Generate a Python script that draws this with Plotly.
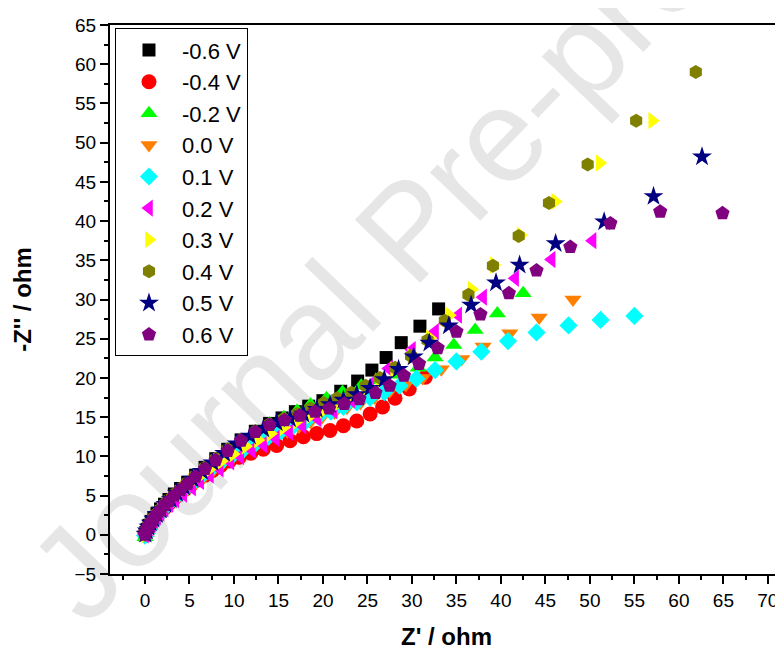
import plotly.graph_objects as go

# ---------------- data ----------------
names = ["-0.6 V", "-0.4 V", "-0.2 V", "0.0 V", "0.1 V", "0.2 V", "0.3 V", "0.4 V", "0.5 V", "0.6 V"]

x_m06 = [0.0,0.1,0.25,0.45,0.7,1.0,1.35,1.75,2.2,2.7,3.3,4.0,4.8,5.7,6.75,7.95,9.3,10.8,12.4,14.0,15.4,16.9,18.4,20.0,22.0,23.9,25.5,27.1,28.8,30.9,33.0]
y_m06 = [0.0,0.3,0.7,1.2,1.7,2.2,2.7,3.3,3.9,4.5,5.2,5.9,6.7,7.6,8.6,9.7,10.9,12.1,13.2,14.2,14.9,15.7,16.4,17.1,18.3,19.6,21.0,22.6,24.5,26.6,28.8]

x_m04 = [0.0,0.1,0.25,0.45,0.7,1.0,1.35,1.75,2.2,2.7,3.25,3.85,4.5,5.2,5.95,6.75,7.6,8.5,9.5,10.6,11.9,13.3,14.8,16.3,17.8,19.3,20.8,22.3,23.8,25.3,26.7,28.1,29.7,31.5]
y_m04 = [0.0,0.25,0.6,1.0,1.4,1.9,2.4,2.9,3.4,4.0,4.6,5.2,5.8,6.4,7.0,7.6,8.2,8.8,9.4,9.9,10.4,10.9,11.4,12.0,12.5,12.9,13.3,13.9,14.5,15.4,16.3,17.4,18.6,20.1]

x_m02 = [0.0,0.12,0.3,0.5,0.75,1.05,1.4,1.8,2.25,2.75,3.35,4.05,4.85,5.75,6.8,8.0,9.35,10.85,12.45,14.0,15.6,17.1,18.6,20.4,22.2,24.3,26.4,28.5,30.7,32.6,34.7,37.1,39.6,42.5]
y_m02 = [-0.3,0.2,0.6,1.1,1.6,2.1,2.6,3.2,3.8,4.4,5.1,5.8,6.6,7.5,8.5,9.6,10.8,12.1,13.2,14.2,15.0,15.8,16.6,17.4,18.2,19.0,19.7,20.4,21.3,22.6,24.2,26.1,28.2,30.8]

x_p00 = [0.0,0.1,0.3,0.55,0.9,1.25,1.7,2.2,2.8,3.4,4.1,4.9,5.7,6.6,7.6,8.6,9.7,10.9,12.1,13.4,14.7,16.0,17.3,18.6,19.9,21.3,22.7,24.2,25.8,27.5,29.3,31.2,33.3,35.6,38.0,41.0,44.3,48.1]
y_p00 = [-0.2,0.1,0.5,0.9,1.4,1.9,2.5,3.1,3.8,4.4,5.1,5.9,6.6,7.3,8.1,8.9,9.6,10.4,11.1,11.9,12.6,13.2,13.8,14.4,15.0,15.6,16.2,16.8,17.5,18.3,19.1,20.0,21.1,22.4,24.0,25.7,27.7,30.0]

x_p01 = [0.0,0.15,0.35,0.6,0.9,1.25,1.65,2.15,2.7,3.3,4.0,4.75,5.6,6.5,7.5,8.6,9.8,11.1,12.5,13.9,15.3,16.7,18.1,19.5,20.9,22.3,23.8,25.3,26.9,28.6,30.5,32.6,35.0,37.8,40.8,44.0,47.6,51.2,55.0]
y_p01 = [-0.1,0.3,0.7,1.2,1.7,2.2,2.8,3.4,4.0,4.7,5.4,6.1,6.9,7.7,8.5,9.3,10.1,10.9,11.7,12.5,13.2,13.9,14.5,15.1,15.7,16.3,16.9,17.5,18.2,19.0,19.9,21.0,22.1,23.35,24.7,25.8,26.7,27.4,27.9]

x_p02 = [0.0,0.1,0.25,0.45,0.7,1.0,1.35,1.75,2.2,2.75,3.4,4.3,5.3,6.2,7.3,8.4,9.6,10.7,12.0,13.3,14.7,16.2,17.7,19.4,21.2,23.2,25.3,27.4,30.0,32.6,35.2,38.0,41.6,45.7,50.3]
y_p02 = [0.0,0.2,0.5,0.9,1.3,1.8,2.3,2.8,3.3,3.9,4.5,5.2,6.0,6.8,7.6,8.4,9.3,10.0,10.8,11.5,12.3,13.1,13.9,14.8,15.8,17.2,19.1,21.2,23.6,25.9,28.0,30.3,32.7,35.1,37.5]

x_p03 = [0.0,0.05,0.2,0.4,0.65,0.95,1.35,1.8,2.3,2.9,3.6,4.4,5.3,6.3,7.4,8.6,9.9,11.3,12.7,14.1,15.6,17.1,18.6,20.1,21.6,23.1,24.7,26.3,28.0,29.9,32.0,34.2,36.7,39.2,42.2,46.1,51.1,57.0]
y_p03 = [0.0,0.1,0.5,0.9,1.4,1.9,2.5,3.1,3.8,4.5,5.1,5.9,6.8,7.6,8.5,9.4,10.3,11.3,12.1,12.9,13.7,14.5,15.2,15.9,16.7,17.6,18.5,19.6,21.0,22.7,25.1,28.0,31.3,34.4,38.2,42.5,47.4,52.8]

x_p04 = [0.0,0.1,0.25,0.45,0.7,1.0,1.35,1.75,2.2,2.7,3.3,4.0,4.8,5.7,6.75,7.95,9.3,10.8,12.4,14.0,15.6,17.1,18.6,20.1,21.6,23.2,24.8,26.4,28.1,29.9,31.75,33.7,36.35,39.1,42.0,45.4,49.75,55.2,61.9]
y_p04 = [0.0,0.35,0.75,1.2,1.7,2.2,2.7,3.3,3.9,4.5,5.2,5.9,6.7,7.6,8.6,9.7,10.9,12.1,13.2,14.1,14.8,15.4,16.1,16.8,17.4,18.1,19.0,20.0,21.3,22.8,24.8,27.3,30.6,34.3,38.1,42.3,47.2,52.8,59.0]

x_p05 = [0.05,0.2,0.4,0.65,0.95,1.35,1.8,2.3,2.9,3.6,4.4,5.35,6.4,7.6,8.9,10.3,11.8,13.3,14.8,16.3,17.8,19.3,20.8,22.3,23.8,25.3,26.9,28.5,30.2,31.95,34.15,36.65,39.45,42.1,46.15,51.6,57.15,62.6]
y_p05 = [0.1,0.5,1.0,1.5,2.0,2.6,3.2,3.9,4.5,5.3,6.1,7.1,8.1,9.2,10.4,11.6,12.6,13.5,14.3,14.8,15.4,16.0,16.6,17.2,17.9,18.7,19.8,21.1,22.7,24.45,26.65,29.3,32.15,34.4,37.15,39.9,43.15,48.2]

x_p06 = [0.0,0.1,0.25,0.45,0.7,1.0,1.35,1.75,2.2,2.7,3.3,4.0,4.8,5.7,6.75,7.95,9.3,10.8,12.4,14.0,15.7,17.4,19.1,20.7,22.4,24.1,25.9,27.5,29.1,30.8,32.9,35.0,37.7,40.9,44.0,47.8,52.3,57.9,64.9]
y_p06 = [0.0,0.3,0.7,1.1,1.6,2.1,2.6,3.1,3.8,4.3,5.0,5.7,6.5,7.4,8.4,9.5,10.7,12.0,13.1,14.0,14.6,15.2,15.7,16.1,16.7,17.3,18.1,19.0,20.3,21.8,23.8,25.9,28.1,30.8,33.7,36.7,39.7,41.2,41.0]

x_ticks = list(range(0, 75, 5))
y_ticks = list(range(-5, 70, 5))

# ---------------- styling ----------------
xs_all = [x_m06, x_m04, x_m02, x_p00, x_p01, x_p02, x_p03, x_p04, x_p05, x_p06]
ys_all = [y_m06, y_m04, y_m02, y_p00, y_p01, y_p02, y_p03, y_p04, y_p05, y_p06]
colors = ["#000000", "#FF0000", "#00FF00", "#FF8000", "#00FFFF",
          "#FF00FF", "#FFFF00", "#808000", "#000080", "#800080"]
symbols = ["square", "circle", "triangle-up", "triangle-down", "diamond",
           "triangle-left", "triangle-right", "hexagon", "star", "pentagon"]
sizes = [13, 15, 15, 15, 14, 15, 15, 14, 15, 15]

FONT = "Arial, Liberation Sans, sans-serif"

fig = go.Figure()
for n, xv, yv, c, s, sz in zip(names, xs_all, ys_all, colors, symbols, sizes):
    fig.add_trace(go.Scatter(
        x=xv, y=yv, mode="markers", name=n,
        marker=dict(color=c, symbol=s, size=sz, line=dict(width=0)),
    ))

# watermark behind the data
fig.add_shape(
    type="rect", xref="paper", yref="paper",
    x0=0.354, x1=0.504, y0=0.598, y1=0.688,
    line=dict(width=0), fillcolor="rgba(0,0,0,0)", layer="below",
    label=dict(text="Journal Pre-proof", textangle=-46,
               font=dict(family=FONT, size=132, color="#e6e6e6")),
)

# the page adds an 8 px body margin, so the figure is 8 px smaller
fig.update_layout(
    width=775, height=642, autosize=False,
    margin=dict(l=102, r=0, t=17, b=76),
    paper_bgcolor="white", plot_bgcolor="white",
    font=dict(family=FONT, color="black"),
    showlegend=True,
    legend=dict(
        x=0.0074, y=0.994, xanchor="left", yanchor="top",
        bordercolor="black", borderwidth=1, bgcolor="white",
        font=dict(family=FONT, size=22, color="black"),
        itemwidth=56,
    ),
    xaxis=dict(
        range=[-3.93, 71.7], tickmode="array", tickvals=x_ticks,
        ticks="outside", ticklen=8, tickwidth=1.5, tickcolor="black",
        minor=dict(dtick=2.5, tick0=0, ticks="outside", ticklen=4, tickwidth=1.5, tickcolor="black"),
        showline=True, linewidth=2, linecolor="black", mirror=True,
        showgrid=False, zeroline=False, automargin=False,
        tickfont=dict(size=19),
        title=dict(text="Z' / ohm", font=dict(size=24, weight="bold"), standoff=18),
    ),
    yaxis=dict(
        range=[-5, 65], tickmode="array", tickvals=y_ticks,
        ticks="outside", ticklen=8, tickwidth=1.5, tickcolor="black",
        minor=dict(dtick=2.5, tick0=0, ticks="outside", ticklen=4, tickwidth=1.5, tickcolor="black"),
        showline=True, linewidth=2, linecolor="black", mirror=False,
        showgrid=False, zeroline=False, automargin=False,
        tickfont=dict(size=19),
        title=dict(text="-Z'' / ohm", font=dict(size=24, weight="bold"), standoff=36),
    ),
)

fig.write_html("out.html")
